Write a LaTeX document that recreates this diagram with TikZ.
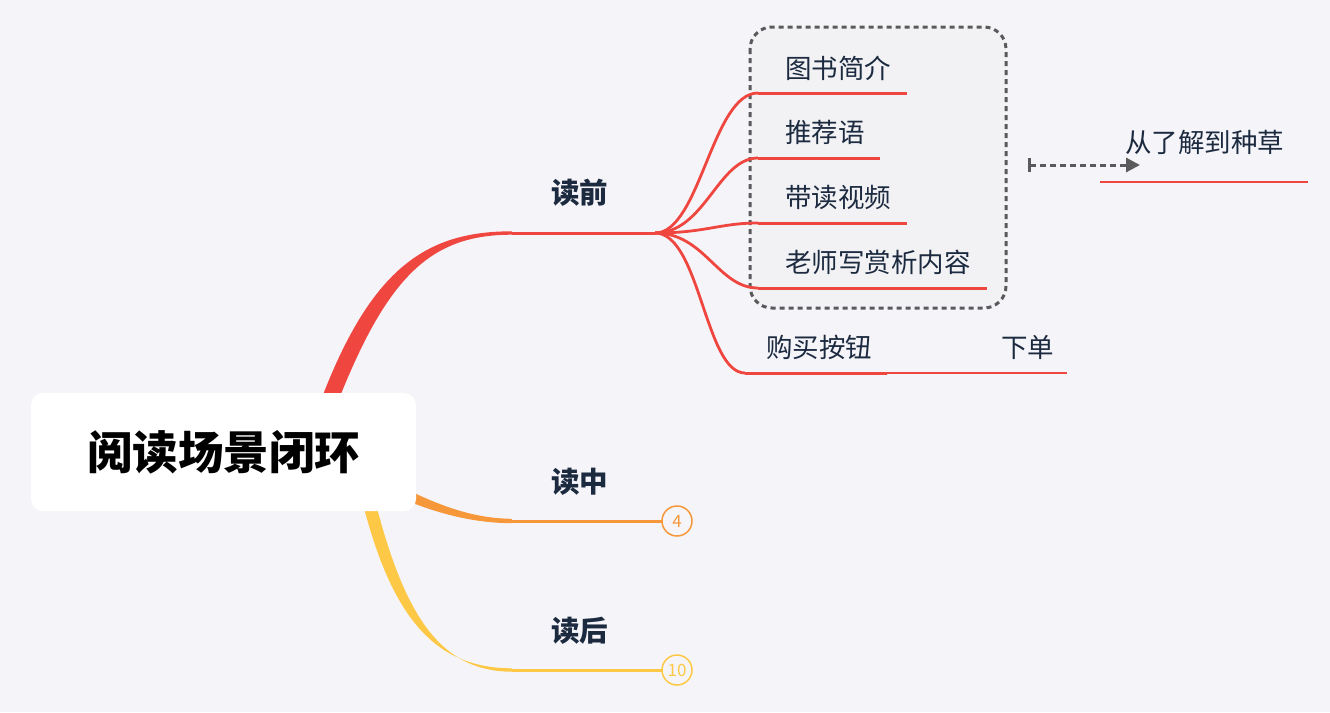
\documentclass[tikz,border=0pt]{standalone}
\usepackage{fontspec}
\newfontfamily\cjk{Noto Sans CJK SC}
\usetikzlibrary{arrows.meta}
\definecolor{bg}{RGB}{245,245,249}
\definecolor{ink}{RGB}{28,42,64}
\definecolor{rd}{RGB}{240,70,64}
\definecolor{og}{RGB}{246,151,58}
\definecolor{yl}{RGB}{253,200,70}
\definecolor{gy}{RGB}{90,90,92}
\definecolor{boxfill}{RGB}{242,242,245}
\tikzset{
  leaf/.style={font=\cjk\fontsize{26.5}{30}\selectfont, text=ink, inner sep=0pt, anchor=west},
  mainlbl/.style={font=\cjk\bfseries\fontsize{28.5}{32}\selectfont, text=ink, inner sep=0pt, anchor=west},
  uline/.style={draw=rd, line width=3pt},
  subcurve/.style={draw=rd, line width=2.8pt},
  badge/.style={circle, minimum size=30pt, inner sep=0pt, line width=1.5pt, fill=bg, font=\cjk\fontsize{17}{19}\selectfont},
}
\begin{document}
\begin{tikzpicture}[x=1pt,y=-1pt]
\fill[bg] (0,0) rectangle (1330,712);
\useasboundingbox (0,0) rectangle (1330,712);

% group box
\draw[gy, line width=3pt, dash pattern=on 5pt off 4pt, fill=boxfill, rounded corners=22pt] (750,27) rectangle (1006,308);

% main branches (tapered)
\fill[rd] (321,400) .. controls (372,266) and (428,231.3) .. (512,231.3) -- (512,234.7) .. controls (432,234.7) and (388,274) .. (337,404) -- cycle;
\fill[og] (412,492) .. controls (450,510) and (480,518.5) .. (512,518.8) -- (512,523.2) .. controls (478,523) and (446,516) .. (410,502) -- cycle;
\fill[yl] (364,508) .. controls (394,622) and (438,668.3) .. (512,668.3) -- (512,671.7) .. controls (442,671.7) and (406,618) .. (377,508) -- cycle;

% root
\node[fill=white, rounded corners=12pt, minimum width=385pt, minimum height=118pt, inner sep=0pt,
  font=\cjk\bfseries\fontsize{45.5}{52}\selectfont, text=black] (root) at (223.5,452) {阅读场景闭环};

% level 1
\coordinate (r0) at (512,233);
\coordinate (hub) at (655,233);
\draw[rd, line width=3pt] (r0) -- (hub);
\node[mainlbl] (pre) at (551,193) {读前};

\coordinate (o0) at (512,521);
\coordinate (o1) at (662,521);
\draw[og, line width=3pt] (o0) -- (o1);
\node[mainlbl] (mid) at (551,482) {读中};
\node[badge, draw=og, text=og] (b4) at (677,521) {4};

\coordinate (y0) at (512,670);
\coordinate (y1) at (662,670);
\draw[yl, line width=3pt] (y0) -- (y1);
\node[mainlbl] (post) at (551,631) {读后};
\node[badge, draw=yl, text=yl] (b10) at (677,670) {10};

% children
\node[leaf] (c1) at (785,68) {图书简介};
\node[leaf] (c2) at (785,132) {推荐语};
\node[leaf] (c3) at (785,197) {带读视频};
\node[leaf] (c4) at (785,262) {老师写赏析内容};
\node[leaf] (c5) at (766,347) {购买按钮};
\node[leaf] (c6) at (1001,347) {下单};
\node[leaf] (sum) at (1125,142) {从了解到种草};

\coordinate (u1a) at (758,93);  \coordinate (u1b) at (907,93);
\coordinate (u2a) at (758,158); \coordinate (u2b) at (880,158);
\coordinate (u3a) at (758,223); \coordinate (u3b) at (907,223);
\coordinate (u4a) at (758,288); \coordinate (u4b) at (987,288);
\coordinate (u5a) at (745,373); \coordinate (u5b) at (887,373);
\coordinate (u6b) at (1067,373);
\coordinate (s1) at (1100,182); \coordinate (s2) at (1308,182);

\draw[subcurve] (hub) .. controls (700,233) and (712,93) .. (u1a);
\draw[subcurve] (hub) .. controls (705,233) and (718,158) .. (u2a);
\draw[subcurve] (hub) .. controls (705,233) and (720,223) .. (u3a);
\draw[subcurve] (hub) .. controls (705,233) and (718,288) .. (u4a);
\draw[subcurve] (hub) .. controls (700,233) and (705,373) .. (u5a);

\draw[uline] (u1a) -- (u1b);
\draw[uline] (u2a) -- (u2b);
\draw[uline] (u3a) -- (u3b);
\draw[uline] (u4a) -- (u4b);
\draw[uline] (u5a) -- (u5b);
\draw[rd, line width=1.5pt] (u5b) -- (u6b);
\draw[rd, line width=1.5pt] (s1) -- (s2);

% summary arrow
\coordinate (ar0) at (1028,165);
\coordinate (ar1) at (1140,165);
\draw[gy, line width=3pt, dash pattern=on 6pt off 4pt, {Bar[width=14pt,line width=3pt]}-{Triangle[width=14pt,length=14pt]}] (ar0) -- (ar1);
\end{tikzpicture}
\end{document}
